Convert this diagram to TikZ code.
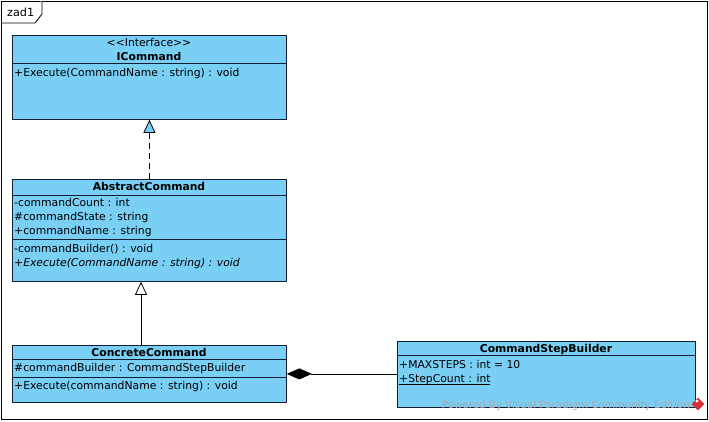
\documentclass[tikz,border=0pt]{standalone}
\usepackage{fontspec}
\setmainfont[Ligatures=NoCommon]{DejaVu Sans}
\usetikzlibrary{arrows.meta,calc}
\definecolor{vpblue}{RGB}{122,207,245}
\definecolor{vpborder}{RGB}{20,30,50}
\definecolor{wmgray}{RGB}{165,170,180}
\definecolor{vpred}{RGB}{215,50,55}
\tikzset{
  classbox/.style={draw=vpborder, fill=vpblue, line width=0.8pt, anchor=north west, inner sep=0pt},
  txt/.style={anchor=base west, inner sep=0pt, font=\fontsize{10.8}{12}\selectfont},
  ttl/.style={anchor=base, inner sep=0pt, font=\fontsize{10.8}{12}\selectfont\bfseries},
  stereo/.style={anchor=base, inner sep=0pt, font=\fontsize{10.8}{12}\selectfont},
  divider/.style={draw=vpborder, line width=0.8pt},
  conn/.style={draw=black, line width=0.8pt},
}
\begin{document}
\begin{tikzpicture}[x=1pt,y=-1pt]
\useasboundingbox (0,0) rectangle (709,421);
\fill[white] (0,0) rectangle (709,421);
% frame
\draw[line width=0.8pt] (1,1) rectangle (707,419);
\draw[line width=0.8pt, fill=white] (1,23) -- (35,23) -- (42,14) -- (42,1);
\node[anchor=base west, inner sep=0pt, font=\fontsize{11.2}{12}\selectfont] (frm) at (7,16) {zad1};

% ICommand
\node[classbox, minimum width=274pt, minimum height=84pt] (icmd) at (12,35) {};
\draw[divider] (12,63) -- (286,63);
\node[stereo] (icst) at (149,46) {<{}<Interface>{}>};
\node[ttl] (icnm) at (149,60) {ICommand};
\node[txt] (icop) at (14,76) {+Execute(CommandName : string) : void};

% AbstractCommand
\node[classbox, minimum width=274pt, minimum height=102pt] (abs) at (12,179) {};
\draw[divider] (12,195) -- (286,195);
\draw[divider] (12,239) -- (286,239);
\node[ttl] (absnm) at (149,190) {AbstractCommand};
\node[txt] (absa1) at (14,206) {-commandCount : int};
\node[txt] (absa2) at (14,220) {\#commandState : string};
\node[txt] (absa3) at (14,234) {+commandName : string};
\node[txt] (abso1) at (14,252) {-commandBuilder() : void};
\node[txt, font=\fontsize{10.8}{12}\selectfont\itshape] (abso2) at (14,266) {+Execute(CommandName : string) : void};

% ConcreteCommand
\node[classbox, minimum width=274pt, minimum height=57pt] (conc) at (12,345) {};
\draw[divider] (12,359) -- (286,359);
\draw[divider] (12,377) -- (286,377);
\node[ttl] (concnm) at (149,356) {ConcreteCommand};
\node[txt] (conca1) at (14,371) {\#commandBuilder : CommandStepBuilder};
\node[txt] (conco1) at (14,389) {+Execute(commandName : string) : void};

% CommandStepBuilder
\node[classbox, minimum width=298pt, minimum height=66pt] (csb) at (397,341) {};
\draw[divider] (397,355) -- (695,355);
\node[ttl] (csbnm) at (546,352) {CommandStepBuilder};
\node[txt] (csba1) at (399,368) {+MAXSTEPS : int = 10};
\node[txt] (csba2) at (399,382) {+StepCount : int};
\draw[line width=0.6pt] (csba2.base west) ++(0,1.8) -- ++(90.5,0);

% watermark
\node[anchor=base east, inner sep=0pt, text=wmgray, font=\fontsize{10.3}{12}\selectfont] (wm) at (690,408) {Powered By Visual Paradigm Community Edition};
\fill[vpred, rotate around={45:(698,404)}] (693.5,399.5) rectangle (702.5,408.5);
\fill[white] (697,401) circle (1.6);

% connectors
\draw[conn, dashed, dash pattern=on 6pt off 4pt, -{Triangle[width=12pt, length=13pt, fill=vpblue]}] (abs.north) -- (icmd.south);
\draw[conn, -{Triangle[width=12pt, length=13pt, fill=white]}] ([xshift=129pt]conc.north west) -- ([xshift=129pt]abs.south west);
\draw[conn, {Diamond[width=11pt, length=25pt, fill=black]}-] (conc.east) -- (conc.east -| csb.west);
\end{tikzpicture}
\end{document}
